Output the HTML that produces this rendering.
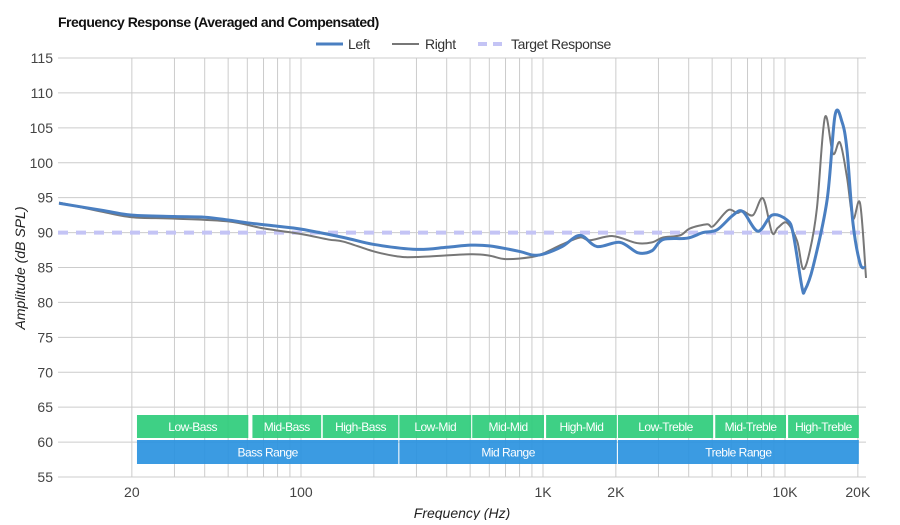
<!DOCTYPE html>
<html><head><meta charset="utf-8"><style>
body{margin:0;background:#fff;width:900px;height:520px;overflow:hidden}
svg{font-family:"Liberation Sans",sans-serif}
</style></head><body>
<svg id="c" width="900" height="520" xmlns="http://www.w3.org/2000/svg">
<text x="58" y="27" font-size="14" font-weight="bold" fill="#111" letter-spacing="-0.5">Frequency Response (Averaged and Compensated)</text>
<g font-size="14" fill="#333" letter-spacing="-0.4">
<g><line x1="316" y1="44" x2="343" y2="44" stroke="#4a7fc1" stroke-width="3"/><text x="348" y="49">Left</text></g>
<g><line x1="392" y1="44" x2="419" y2="44" stroke="#777" stroke-width="2"/><text x="425" y="49">Right</text></g>
<g><line x1="478" y1="44" x2="506" y2="44" stroke="#c4c4f5" stroke-width="4" stroke-dasharray="9,6"/><text x="511" y="49">Target Response</text></g>
</g>
<g id="grid"></g>
<g id="bands"></g>
<g id="series"></g>
<g id="axes" font-size="14" fill="#444"></g>
<text x="462" y="518" font-size="14" font-style="italic" fill="#222" text-anchor="middle">Frequency (Hz)</text>
<text transform="translate(25,268) rotate(-90)" font-size="14" font-style="italic" fill="#222" text-anchor="middle">Amplitude (dB SPL)</text>
</svg>
<script>
const yTicks=[55,60,65,70,75,80,85,90,95,100,105,110,115];
const xTickVals=[20,100,1000,2000,10000,20000];
const xTickLabels=["20","100","1K","2K","10K","20K"];
const gridFreqs=[20,30,40,50,60,70,80,90,100,200,300,400,500,600,700,800,900,1000,2000,3000,4000,5000,6000,7000,8000,9000,10000,20000];
const leftF=[10,15,20,30,40,50,60,80,100,150,200,300,400,500,600,800,900,1000,1200,1422,1672,2080,2470,2820,3130,3940,4580,5240,6100,6700,7730,8840,10190,10800,11750,12100,13060,14930,16100,17220,18040,19100,20420,21420];
const leftDb=[94.2,93.2,92.5,92.3,92.2,91.8,91.4,90.9,90.5,89.3,88.3,87.6,87.9,88.2,88.1,87.3,86.8,86.9,88.0,89.6,88.0,88.6,87.1,87.4,89.0,89.2,90.0,90.4,92.5,93.0,90.2,92.5,91.8,89.9,82.2,81.8,85.1,94.7,106.8,105.8,101.8,91.3,85.6,85.0];
const rightF=[10,15,20,30,50,70,100,130,150,200,250,300,500,600,700,900,1000,1200,1422,1563,1945,2443,2820,3130,3684,4050,4760,5040,5810,6340,6700,7380,8110,8840,9350,10190,11220,11870,12670,13550,14620,15780,16870,18040,19100,20420,21620];
const rightDb=[94.3,93.0,92.2,92.0,91.6,90.6,89.8,89.0,88.7,87.3,86.6,86.5,86.9,86.7,86.2,86.5,87.0,88.3,89.3,88.9,89.5,88.5,88.6,89.3,89.6,90.6,91.2,90.9,93.2,92.8,93.1,92.5,94.9,90.0,90.7,91.4,88.8,84.8,87.4,93.5,106.5,101.3,102.9,97.9,92.0,94.2,83.5];
const targetDb=90;
const bandNames=["Low-Bass","Mid-Bass","High-Bass","Low-Mid","Mid-Mid","High-Mid","Low-Treble","Mid-Treble","High-Treble"];
const bandEdges=[[21,60],[63,120],[123,250],[255,500],[510,1000],[1030,2000],[2040,5000],[5150,10000],[10300,20000]];
const rangeNames=["Bass Range","Mid Range","Treble Range"];
const rangeEdges=[[21,250],[255,2000],[2040,20000]];
const NS="http://www.w3.org/2000/svg";
const X0=58,X1=866,Y0=58,Y1=477;
function xs(f){return 301+(Math.log10(f)-2)*242;}
function ys(d){return Y1-(d-55)*(Y1-Y0)/60;}
function mk(p,tag,at){const e=document.createElementNS(NS,tag);for(const k in at)e.setAttribute(k,at[k]);p.appendChild(e);return e;}
const grid=document.getElementById('grid'),axes=document.getElementById('axes'),bands=document.getElementById('bands'),series=document.getElementById('series');
yTicks.forEach(t=>{const l=mk(grid,'line',{x1:X0,x2:X1,y1:ys(t),y2:ys(t),stroke:'#ccc','stroke-width':1});


const tx=mk(axes,'text',{x:53,y:ys(t)+5,'text-anchor':'end'});tx.textContent=t;

});
gridFreqs.forEach(f=>{const l=mk(grid,'line',{x1:xs(f),x2:xs(f),y1:Y0,y2:Y1,stroke:'#ccc','stroke-width':1});

});
xTickVals.forEach((f,i)=>{const tx=mk(axes,'text',{x:xs(f),y:497,'text-anchor':'middle'});tx.textContent=xTickLabels[i];

});
function band(p,edge,name,y,h,col){const g=mk(p,'g',{});


const a=xs(edge[0]),b=Math.min(xs(edge[1])+1,859);
mk(g,'rect',{x:a,y:y,width:b-a,height:h,fill:col,'fill-opacity':0.92});
const t=mk(g,'text',{x:(a+b)/2,y:y+h/2+4.5,'text-anchor':'middle',fill:'#fff','font-size':12,'letter-spacing':'-0.5'});t.textContent=name;}
bandNames.forEach((n,i)=>band(bands,bandEdges[i],n,415,23,'#2ecc7b'));
rangeNames.forEach((n,i)=>band(bands,rangeEdges[i],n,440,24,'#2a93e0'));
const tl=mk(series,'line',{x1:X0,x2:X1,y1:ys(targetDb),y2:ys(targetDb),stroke:'#c4c4f5','stroke-width':4,'stroke-dasharray':'10,8'});


function path(F,D){const P=F.map((f,i)=>[xs(f),ys(D[i])]);let d='M'+P[0][0]+','+P[0][1];
for(let i=0;i<P.length-1;i++){const p0=P[Math.max(0,i-1)],p1=P[i],p2=P[i+1],p3=P[Math.min(P.length-1,i+2)];
const c1=[p1[0]+(p2[0]-p0[0])/6,p1[1]+(p2[1]-p0[1])/6],c2=[p2[0]-(p3[0]-p1[0])/6,p2[1]-(p3[1]-p1[1])/6];
d+=' C'+c1[0]+','+c1[1]+' '+c2[0]+','+c2[1]+' '+p2[0]+','+p2[1];}return d;}
const rp=mk(series,'path',{d:path(rightF,rightDb),fill:'none',stroke:'#777','stroke-width':2});


const lp=mk(series,'path',{d:path(leftF,leftDb),fill:'none',stroke:'#4a7fc1','stroke-width':3});


</script>
</body></html>
